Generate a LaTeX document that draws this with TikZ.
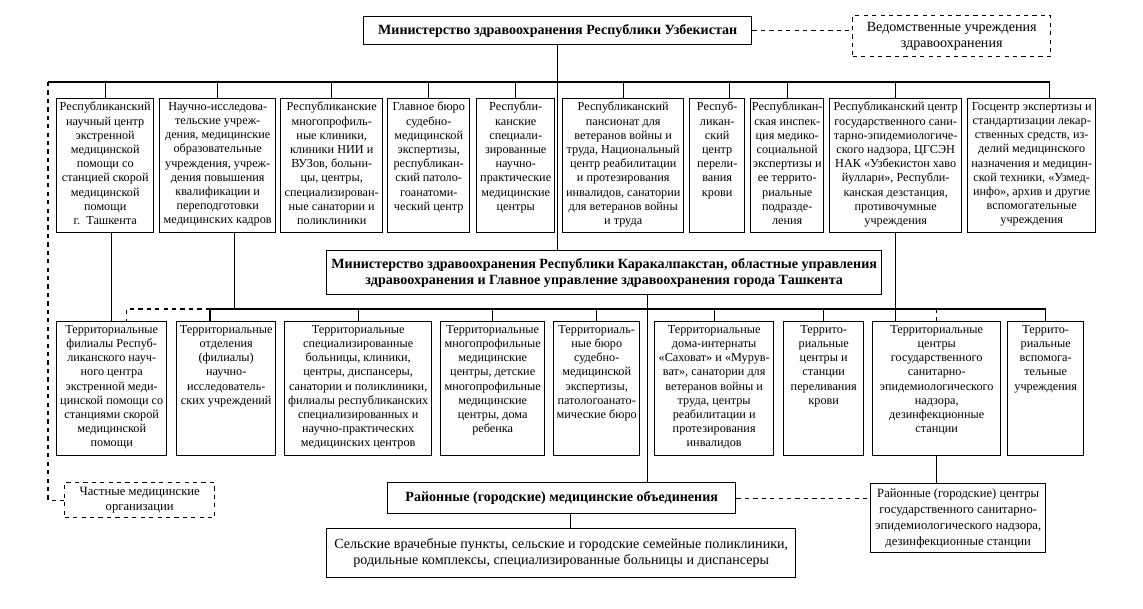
\documentclass[tikz,border=0pt]{standalone}
\usepackage{fontspec}
\setmainfont{Liberation Serif}
\usetikzlibrary{calc}
\newlength{\px}
\setlength{\px}{0.025cm}
\newcommand{\boxtext}[3]{\parbox[t][#2][t]{#1}{\centering\exhyphenpenalty=10000\hyphenpenalty=10000\vspace*{2.5pt}#3}}
\tikzstyle{org_unit}=[rectangle,
                      draw=black,
                      line width=1pt,
                      inner sep=0pt,
                      anchor=north west,
                      font=\fontsize{8.7}{10.1}\selectfont]
\tikzstyle{org_head}=[rectangle,
                      draw=black,
                      line width=1pt,
                      inner sep=0pt,
                      anchor=north west,
                      align=center,
                      font=\bfseries\fontsize{10}{11.2}\selectfont]
\tikzstyle{org_side}=[rectangle,
                      draw=black,
                      line width=1pt,
                      dashed,
                      inner sep=0pt,
                      anchor=north west,
                      align=center]
\tikzstyle{conn}=[line width=0.9pt]

\begin{document}
\begin{tikzpicture}[x=0.025cm, y=-0.025cm]
    \useasboundingbox (0,0) rectangle (1143,609);
    % ---------------------------------------------------------------------------------------------------------
    %  Ministerstvo
    \node at (363,16) (MinUz) [org_head, minimum width=388*\px, minimum height=28*\px] {Министерство здравоохранения Республики Узбекистан};
    \node at (852,15) (Ved) [org_side, minimum width=198*\px, minimum height=41*\px, font=\fontsize{10}{11.2}\selectfont] {Ведомственные учреждения\\здравоохранения};

    % ---------------------------------------------------------------------------------------------------------
    %  Respublikanskie uchrezhdeniya
    \node at (56,98) (R1) [org_unit] {\boxtext{97\px}{134\px}{Республиканский\\научный центр\\экстренной\\медицинской\\помощи со\\станцией скорой\\медицинской\\помощи\\г.~~Ташкента}};
    \node at (159,98) (R2) [org_unit] {\boxtext{116\px}{134\px}{Научно-исследова-\\тельские учреж-\\дения, медицинские\\образовательные\\учреждения, учреж-\\дения повышения\\квалификации и\\переподготовки\\медицинских кадров}};
    \node at (280,98) (R3) [org_unit] {\boxtext{102\px}{134\px}{Республиканские\\многопрофиль-\\ные клиники,\\клиники НИИ и\\ВУЗов, больни-\\цы, центры,\\специализирован-\\ные санатории и\\поликлиники}};
    \node at (387,98) (R4) [org_unit] {\boxtext{82\px}{134\px}{Главное бюро\\судебно-\\медицинской\\экспертизы,\\республикан-\\ский патоло-\\гоанатоми-\\ческий центр}};
    \node at (476,98) (R5) [org_unit] {\boxtext{78\px}{134\px}{Республи-\\канские\\специали-\\зированные\\научно-\\практические\\медицинские\\центры}};
    \node at (562,98) (R6) [org_unit] {\boxtext{121\px}{134\px}{Республиканский\\пансионат для\\ветеранов войны и\\труда, Национальный\\центр реабилитации\\и протезирования\\инвалидов, санатории\\для ветеранов войны\\и труда}};
    \node at (689,98) (R7) [org_unit] {\boxtext{55\px}{134\px}{Респуб-\\ликан-\\ский\\центр\\перели-\\вания\\крови}};
    \node at (750,98) (R8) [org_unit] {\boxtext{73\px}{134\px}{Республикан-\\ская инспек-\\ция медико-\\социальной\\экспертизы и\\ее террито-\\риальные\\подразде-\\ления}};
    \node at (829,98) (R9) [org_unit] {\boxtext{132\px}{134\px}{Республиканский центр\\государственного сани-\\тарно-эпидемиологиче-\\ского надзора, ЦГСЭН\\НАК «Узбекистон хаво\\йуллари», Республи-\\канская дезстанция,\\противочумные\\учреждения}};
    \node at (967,98) (R10) [org_unit] {\boxtext{128\px}{134\px}{Госцентр экспертизы и\\стандартизации лекар-\\ственных средств, из-\\делий медицинского\\назначения и медицин-\\ской техники, «Узмед-\\инфо», архив и другие\\вспомогательные\\учреждения}};

    \coordinate (busA) at (48,82);
    \coordinate (R7in) at ($(R7.north)+(12.5,0)$);
    \coordinate (R10in) at ($(R10.north)+(18,0)$);
    \draw[conn] (busA) -- (busA -| R10in);
    \foreach \n in {R1,R2,R3,R4,R5,R6,R8,R9} {
        \draw[conn] (\n.north) -- (\n.north |- busA);
    }
    \draw[conn] (R7in) -- (R7in |- busA);
    \draw[conn] (R10in) -- (R10in |- busA);
    \draw[conn, dashed] (MinUz.east) -- (MinUz.east -| Ved.west);

    % ---------------------------------------------------------------------------------------------------------
    %  Regionalnye upravleniya
    \node at (326,250) (MinReg) [org_head, minimum width=555*\px, minimum height=44*\px] {Министерство здравоохранения Республики Каракалпакстан, областные управления\\здравоохранения и Главное управление здравоохранения города Ташкента};
    \draw[conn] (MinUz.south) -- (MinUz.south |- MinReg.north);

    \node at (56,321) (L1) [org_unit] {\boxtext{110\px}{134\px}{Территориальные\\филиалы Респуб-\\ликанского науч-\\ного центра\\экстренной меди-\\цинской помощи со\\станциями скорой\\медицинской\\помощи}};
    \node at (176,321) (L2) [org_unit] {\boxtext{99\px}{134\px}{Территориальные\\отделения\\(филиалы)\\научно-\\исследователь-\\ских учреждений}};
    \node at (284,321) (L3) [org_unit] {\boxtext{147\px}{134\px}{Территориальные\\специализированные\\больницы, клиники,\\центры, диспансеры,\\санатории и поликлиники,\\филиалы республиканских\\специализированных и\\научно-практических\\медицинских центров}};
    \node at (440,321) (L4) [org_unit] {\boxtext{104\px}{134\px}{Территориальные\\многопрофильные\\медицинские\\центры, детские\\многопрофильные\\медицинские\\центры, дома\\ребенка}};
    \node at (553,321) (L5) [org_unit] {\boxtext{86\px}{134\px}{Территориаль-\\ные бюро\\судебно-\\медицинской\\экспертизы,\\патологоанато-\\мические бюро}};
    \node at (654,321) (L6) [org_unit] {\boxtext{119\px}{134\px}{Территориальные\\дома-интернаты\\«Саховат» и «Мурув-\\ват», санатории для\\ветеранов войны и\\труда, центры\\реабилитации и\\протезирования\\инвалидов}};
    \node at (783,321) (L7) [org_unit] {\boxtext{80\px}{134\px}{Террито-\\риальные\\центры и\\станции\\переливания\\крови}};
    \node at (872,321) (L8) [org_unit] {\boxtext{128\px}{134\px}{Территориальные\\центры\\государственного\\санитарно-\\эпидемиологического\\надзора,\\дезинфекционные\\станции}};
    \node at (1007,321) (L9) [org_unit] {\boxtext{76\px}{134\px}{Террито-\\риальные\\вспомога-\\тельные\\учреждения}};

    \coordinate (busL) at (210,309);
    \coordinate (L1in) at ($(L1.north)+(15,0)$);
    \coordinate (R2out) at ($(R2.south)+(17,0)$);
    \coordinate (RegOut) at ($(MinReg.south)+(43.5,0)$);
    \draw[conn] (busL) -- (busL -| L9.north);
    \draw[conn] (busL) -- (L2.north -| busL);
    \foreach \n in {L3,L4,L5,L6,L7,L9} {
        \draw[conn] (\n.north) -- (\n.north |- busL);
    }
    \draw[conn, dashed] (busL) -| (L1in);
    \draw[conn, dashed] (L8.north) -- (L8.north |- busL);
    \draw[conn] (L1.north) -- (L1.north |- R1.south);
    \draw[conn] (R2out) -- (R2out |- busL);
    \draw[conn] (R9.south) -- (R9.south |- L8.north);

    % ---------------------------------------------------------------------------------------------------------
    %  Rayonnyi uroven
    \node at (64,482) (Private) [org_side, minimum width=150*\px, minimum height=35*\px, font=\fontsize{9}{10.7}\selectfont] {Частные медицинские\\организации};
    \node at (387,482) (Rayon) [org_head, minimum width=348*\px, minimum height=31*\px] {Районные (городские) медицинские объединения};
    \node at (870,483) (RC) [org_head, minimum width=175*\px, minimum height=69*\px, font=\mdseries\fontsize{9}{11.4}\selectfont] {Районные (городские) центры\\государственного санитарно-\\эпидемиологического надзора,\\дезинфекционные станции};
    \node at (326,528) (Sel) [org_head, minimum width=469*\px, minimum height=49*\px, font=\mdseries\fontsize{10}{11.4}\selectfont] {Сельские врачебные пункты, сельские и городские семейные поликлиники,\\родильные комплексы, специализированные больницы и диспансеры};

    \coordinate (RayOut) at ($(Rayon.south)+(9,0)$);
    \draw[conn] (RegOut) -- (RegOut |- Rayon.north);
    \draw[conn] (L8.south) -- (L8.south |- RC.north);
    \draw[conn] (RayOut) -- (RayOut |- Sel.north);
    \draw[conn, dashed] (Rayon.east) -- (Rayon.east -| RC.west);
    \draw[conn, dashed] (busA) |- (Private.west);
\end{tikzpicture}
\end{document}
